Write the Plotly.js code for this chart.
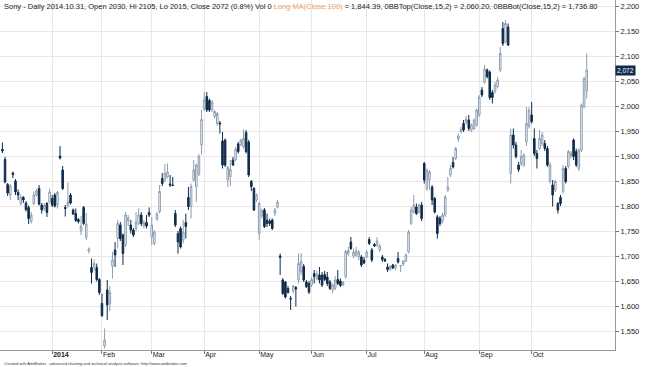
<!DOCTYPE html>
<html>
<head>
<meta charset="utf-8">
<script src="https://cdn.plot.ly/plotly-3.0.1.min.js"></script>
<style>
  html, body { margin: 0; padding: 0; background: #ffffff; }
  #chart { width: 645px; height: 367px; }
</style>
</head>
<body>
<div id="chart"></div>
<script>
// Daily OHLC, Dec 2013 .. Oct 31 2014 (one entry per trading day)
var opens = [
  1913,1893,1843,1822,1866,1850,1827,1805,1817,1806,1797,1769,1805,1822,1835,1802,1795,1805,1808,
  1815,1822,1802,1900,1872,1797,1800,1822,1792,1785,1773,1750,1797,1737,1710,1677,1678,1677,1653,
  1605,1520,1632,1605,1680,1712,1735,1762,1742,1722,1770,1762,1752,1755,1765,1782,1760,1767,1787,
  1738,1725,1774,1789,1855,1852,1858,1844,1842,1785,1745,1755,1732,1767,1817,1799,1852,1839,1864,1922,
  1995,2019,2011,1992,1979,1965,1966,1930,1932,1852,1859,1892,1893,1924,1922,1919,1947,1928,1849,1835,1812,
  1745,1780,1792,1772,1770,1772,1785,1798,1700,1652,1648,1635,1615,1630,1637,1652,1669,1679,1648,1645,
  1642,1665,1655,1662,1662,1663,1658,1648,1632,1635,1653,1650,1642,1659,1705,1728,1700,1702,1698,1698,1692,
  1698,1733,1712,1723,1722,1712,1698,1693,1678,1674,1682,1676,1695,1680,1684,1690,1708,1765,1788,1798,1788,1802,
  1885,1835,1852,1838,1815,1778,1775,1770,1782,1832,1862,1887,1895,1934,1949,1965,1967,1972,1952,1955,1962,
  1982,2032,2047,2072,2068,2027,2029,2039,2072,2155,2128,2158,1865,1942,1922,1882,1885,1882,1929,1959,
  1982,1935,1905,1915,1925,1925,1915,1849,1842,1832,1805,1817,1829,1875,1879,1900,1932,1909,1875,1912,1999,2030
];
var highs = [
  1927,1898,1846,1844,1869,1854,1833,1823,1820,1810,1801,1788,1829,1834,1842,1806,1806,1808,1835,
  1822,1826,1830,1920,1880,1802,1847,1826,1795,1795,1776,1780,1800,1786,1717,1695,1693,1685,1656,
  1625,1555,1652,1640,1708,1728,1772,1768,1745,1788,1782,1772,1756,1788,1795,1788,1772,1782,1797,
  1778,1752,1788,1842,1866,1884,1885,1862,1858,1792,1750,1759,1772,1785,1838,1845,1892,1885,1904,1992,
  2028,2028,2015,2012,1992,1988,1970,1948,1935,1880,1892,1898,1918,1928,1934,1953,1952,1932,1852,1838,1825,
  1808,1795,1796,1785,1775,1775,1796,1812,1705,1656,1650,1640,1620,1642,1640,1705,1706,1684,1652,1650,
  1658,1672,1670,1678,1668,1670,1668,1652,1645,1660,1672,1655,1650,1712,1718,1738,1715,1718,1712,1702,1698,
  1712,1738,1716,1726,1738,1724,1702,1696,1685,1682,1684,1684,1708,1682,1692,1705,1752,1798,1822,1805,1805,1808,
  1888,1875,1872,1842,1818,1782,1780,1786,1822,1858,1882,1898,1918,1945,1958,1972,1980,1982,1965,1975,1995,
  2022,2038,2082,2075,2071,2032,2048,2058,2118,2168,2172,2165,1955,1955,1928,1888,1912,1905,1998,1998,
  2008,1955,1912,1952,1948,1932,1920,1888,1852,1852,1808,1822,1882,1880,1912,1910,1935,1915,1915,2005,2058,2105
];
var lows = [
  1906,1845,1820,1812,1856,1822,1812,1801,1806,1789,1764,1765,1802,1819,1801,1785,1790,1778,1805,
  1798,1797,1795,1893,1832,1779,1797,1803,1782,1768,1765,1742,1762,1732,1705,1645,1670,1649,1622,
  1578,1515,1572,1590,1655,1678,1715,1730,1682,1718,1760,1745,1738,1750,1762,1760,1755,1755,1778,
  1722,1722,1770,1785,1840,1848,1855,1838,1840,1758,1705,1715,1725,1735,1792,1775,1848,1808,1860,1903,
  1990,1988,1988,1988,1975,1960,1945,1875,1878,1838,1840,1880,1890,1905,1920,1915,1905,1858,1830,1790,1808,
  1732,1775,1756,1758,1760,1752,1780,1795,1662,1622,1615,1625,1592,1625,1599,1645,1662,1648,1636,1624,
  1638,1645,1652,1645,1638,1650,1640,1632,1625,1632,1642,1638,1640,1655,1700,1712,1695,1698,1692,1678,1684,
  1695,1722,1688,1718,1718,1708,1688,1688,1668,1670,1674,1672,1685,1668,1680,1688,1705,1762,1785,1782,1785,1770,
  1845,1830,1832,1802,1785,1735,1760,1765,1778,1828,1858,1875,1892,1928,1945,1948,1963,1950,1948,1952,1958,
  1978,2018,2045,2055,2012,2005,2025,2035,2068,2120,2125,2120,1845,1915,1895,1868,1880,1878,1920,1955,
  1965,1900,1875,1912,1920,1910,1878,1845,1799,1828,1785,1800,1825,1845,1875,1895,1892,1878,1870,1908,1995,2015
];
var closes = [
  1910,1848,1826,1840,1863,1828,1822,1818,1812,1793,1775,1782,1822,1830,1804,1792,1801,1787,1828,
  1802,1800,1827,1896,1835,1795,1808,1806,1784,1771,1769,1760,1765,1764,1714,1667,1685,1653,1627,
  1581,1532,1602,1627,1692,1702,1765,1735,1705,1782,1776,1752,1742,1768,1782,1765,1767,1760,1782,
  1762,1748,1784,1829,1845,1865,1868,1842,1841,1762,1728,1718,1748,1759,1799,1839,1872,1882,1899,1973,
  2012,1992,1992,2008,1989,1985,1964,1882,1882,1877,1873,1882,1913,1909,1932,1935,1909,1862,1839,1792,1822,
  1805,1790,1759,1765,1765,1755,1792,1808,1697,1625,1618,1627,1614,1640,1634,1685,1689,1652,1639,1628,
  1653,1659,1664,1652,1642,1653,1645,1635,1642,1652,1645,1641,1647,1709,1711,1715,1708,1710,1708,1682,1686,
  1708,1725,1692,1720,1730,1720,1693,1690,1673,1679,1676,1682,1688,1681,1690,1702,1748,1792,1802,1785,1802,1775,
  1852,1872,1868,1812,1788,1745,1765,1782,1818,1838,1875,1878,1915,1940,1953,1952,1973,1955,1962,1972,1992,
  2018,2022,2074,2059,2017,2017,2042,2052,2105,2125,2165,2122,1942,1922,1899,1873,1899,1902,1965,1992,
  1969,1905,1895,1935,1942,1915,1882,1882,1822,1849,1792,1805,1875,1849,1909,1906,1899,1882,1912,2002,2055,2072
];
// index of first trading day of each month and its label
var monthStartIdx = [19, 38, 57, 77, 98, 118, 139, 161, 182, 202];
var monthLabels = ['<b>2014</b>', 'Feb', 'Mar', 'Apr', 'May', 'Jun', 'Jul', 'Aug', 'Sep', 'Oct'];
var lastClose = 2072;
var titleMain = 'Sony - Daily 2014.10.31, Open 2030, Hi 2105, Lo 2015, Close 2072 (0.8%) Vol 0 ';
var titleMA = 'Long MA(Close,100)';
var titleRest = ' = 1,844.39, 0BBTop(Close,15,2) = 2,060.20, 0BBBot(Close,15,2) = 1,736.80';
var footer = 'Created with AmiBroker - advanced charting and technical analysis software. http://www.amibroker.com';

var idx = opens.map(function (_, i) { return i; });
var NAVY = '#0f2c4b';

var trace = {
  type: 'candlestick',
  x: idx, open: opens, high: highs, low: lows, close: closes,
  increasing: { line: { color: '#8d9db0', width: 1 }, fillcolor: '#ffffff' },
  decreasing: { line: { color: NAVY, width: 1 }, fillcolor: NAVY },
  whiskerwidth: 0,
  hoverinfo: 'none',
  showlegend: false
};

var FONT = 'Liberation Sans, Arial, sans-serif';
var layout = {
  width: 645, height: 367,
  margin: { l: 0, r: 30, t: 0, b: 17, pad: 0 },
  paper_bgcolor: '#ffffff', plot_bgcolor: '#ffffff',
  boxgap: 0.15,
  showlegend: false,
  xaxis: {
    range: [-0.92, 233.8],
    rangeslider: { visible: false },
    tickmode: 'array', tickvals: monthStartIdx, ticktext: monthLabels,
    ticks: 'outside', ticklen: 3, tickcolor: '#777', tickwidth: 1,
    ticklabelposition: 'outside right',
    ticklabelstandoff: -2,
    tickfont: { family: FONT, size: 7, color: '#222' },
    showgrid: true, gridcolor: '#e8e8e8', gridwidth: 1,
    showline: true, linecolor: '#999', linewidth: 1,
    zeroline: false, fixedrange: true
  },
  yaxis: {
    side: 'right',
    range: [1512, 2212],
    dtick: 50, tick0: 1500, tickformat: ',d',
    ticks: 'outside', ticklen: 3, tickcolor: '#777',
    tickfont: { family: FONT, size: 7.5, color: '#222' },
    showgrid: true, gridcolor: '#e8e8e8', gridwidth: 1,
    showline: true, linecolor: '#999', linewidth: 1, mirror: true,
    zeroline: false, fixedrange: true
  },
  annotations: [
    {
      xref: 'paper', yref: 'paper', x: 0.004, y: 1.0, xanchor: 'left', yanchor: 'top',
      showarrow: false, align: 'left',
      text: titleMain + '<span style="color:#f0a060">' + titleMA + '</span>' + titleRest,
      font: { family: FONT, size: 7.5, color: '#222' }
    },
    {
      xref: 'paper', yref: 'y', x: 1.0, y: lastClose, xanchor: 'left', yanchor: 'middle',
      showarrow: false, text: '2,072', bgcolor: NAVY, borderpad: 1,
      font: { family: FONT, size: 6.5, color: '#ffffff' }
    },
    {
      xref: 'paper', yref: 'paper', x: 0.004, y: -0.038, xanchor: 'left', yanchor: 'middle',
      showarrow: false, text: footer,
      font: { family: FONT, size: 4, color: '#333' }
    }
  ]
};

Plotly.newPlot('chart', [trace], layout, { staticPlot: true, displayModeBar: false });
</script>
</body>
</html>
